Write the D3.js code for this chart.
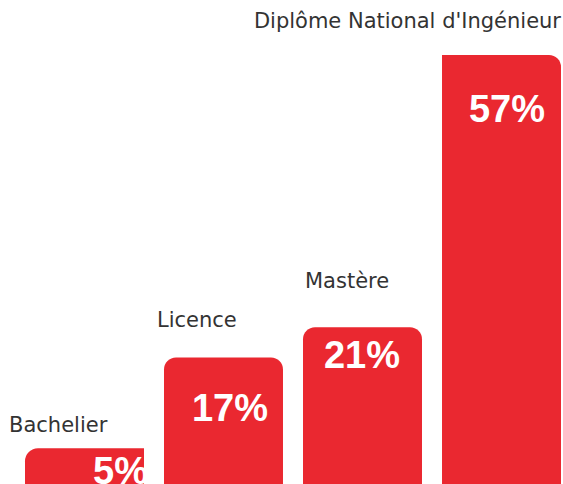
<!DOCTYPE html>
<html>
<head>
<meta charset="utf-8">
<script src="https://cdn.jsdelivr.net/npm/d3@7"></script>
<style>
  html, body { margin: 0; padding: 0; background: #fff; }
  svg { display: block; }
</style>
</head>
<body>
<svg id="chart" width="563" height="484"></svg>
<script>
// ---- data ----
const categories = ["Bachelier", "Licence", "Mastère", "Diplôme National d'Ingénieur"];
const values = [5, 17, 21, 57];
const valueLabels = ["5%", "17%", "21%", "57%"];

// ---- layout (not data) ----
const W = 563, H = 484;
const barColor = "#ea2830";
const labelColor = "#333333";
// category label placement relative to bar (anchor, dx from bar edge, dy from bar top)
const catAnchor = ["start", "start", "start", "end"];
const catDx = [-16, -7, 2, 0];
const catDy = [-16, -30, -39, -27];
// value label placement: right end offset from bar right, baseline offset from bar top
const valDx = [4, -15, -22, -16];
const valDy = [36, 64, 41, 67];
// corner radii [topLeft, topRight]
const radii = [[13, 0], [12, 12], [12, 12], [0, 12]];

const svg = d3.select("#chart");

const x = d3.scaleBand()
  .domain(categories)
  .range([25, 561])
  .paddingInner(0.144)
  .paddingOuter(0);

const y = d3.scaleLinear()
  .domain([0, 57])
  .range([486, 55]);

function barPath(x0, y0, w, h, rl, rr) {
  const x1 = x0 + w, y1 = y0 + h;
  return `M${x0},${y1}` +
    `L${x0},${y0 + rl}` +
    (rl ? `A${rl},${rl} 0 0 1 ${x0 + rl},${y0}` : "") +
    `L${x1 - rr},${y0}` +
    (rr ? `A${rr},${rr} 0 0 1 ${x1},${y0 + rr}` : "") +
    `L${x1},${y1}Z`;
}

const data = categories.map((c, i) => ({ c, v: values[i], lab: valueLabels[i], i }));

const defs = svg.append("defs");
defs.selectAll("clipPath")
  .data(data)
  .join("clipPath")
  .attr("id", d => "clip" + d.i)
  .append("path")
  .attr("d", d => barPath(x(d.c), y(d.v), x.bandwidth(), y(0) - y(d.v), radii[d.i][0], radii[d.i][1]));

const g = svg.selectAll("g.bar")
  .data(data)
  .join("g")
  .attr("class", "bar");

g.append("path")
  .attr("d", d => barPath(x(d.c), y(d.v), x.bandwidth(), y(0) - y(d.v), radii[d.i][0], radii[d.i][1]))
  .attr("fill", barColor);

g.append("text")
  .attr("clip-path", d => `url(#clip${d.i})`)
  .attr("x", d => x(d.c) + x.bandwidth() + valDx[d.i])
  .attr("y", d => y(d.v) + valDy[d.i])
  .attr("text-anchor", "end")
  .attr("font-family", "'Liberation Sans', Arial, sans-serif")
  .attr("font-weight", "bold")
  .attr("font-size", 38)
  .attr("fill", "#ffffff")
  .text(d => d.lab);

g.append("text")
  .attr("x", d => (catAnchor[d.i] === "end" ? x(d.c) + x.bandwidth() : x(d.c)) + catDx[d.i])
  .attr("y", d => y(d.v) + catDy[d.i])
  .attr("text-anchor", d => catAnchor[d.i])
  .attr("font-family", "'DejaVu Sans', sans-serif")
  .attr("font-size", 21)
  .attr("fill", labelColor)
  .text(d => d.c);
</script>
</body>
</html>
